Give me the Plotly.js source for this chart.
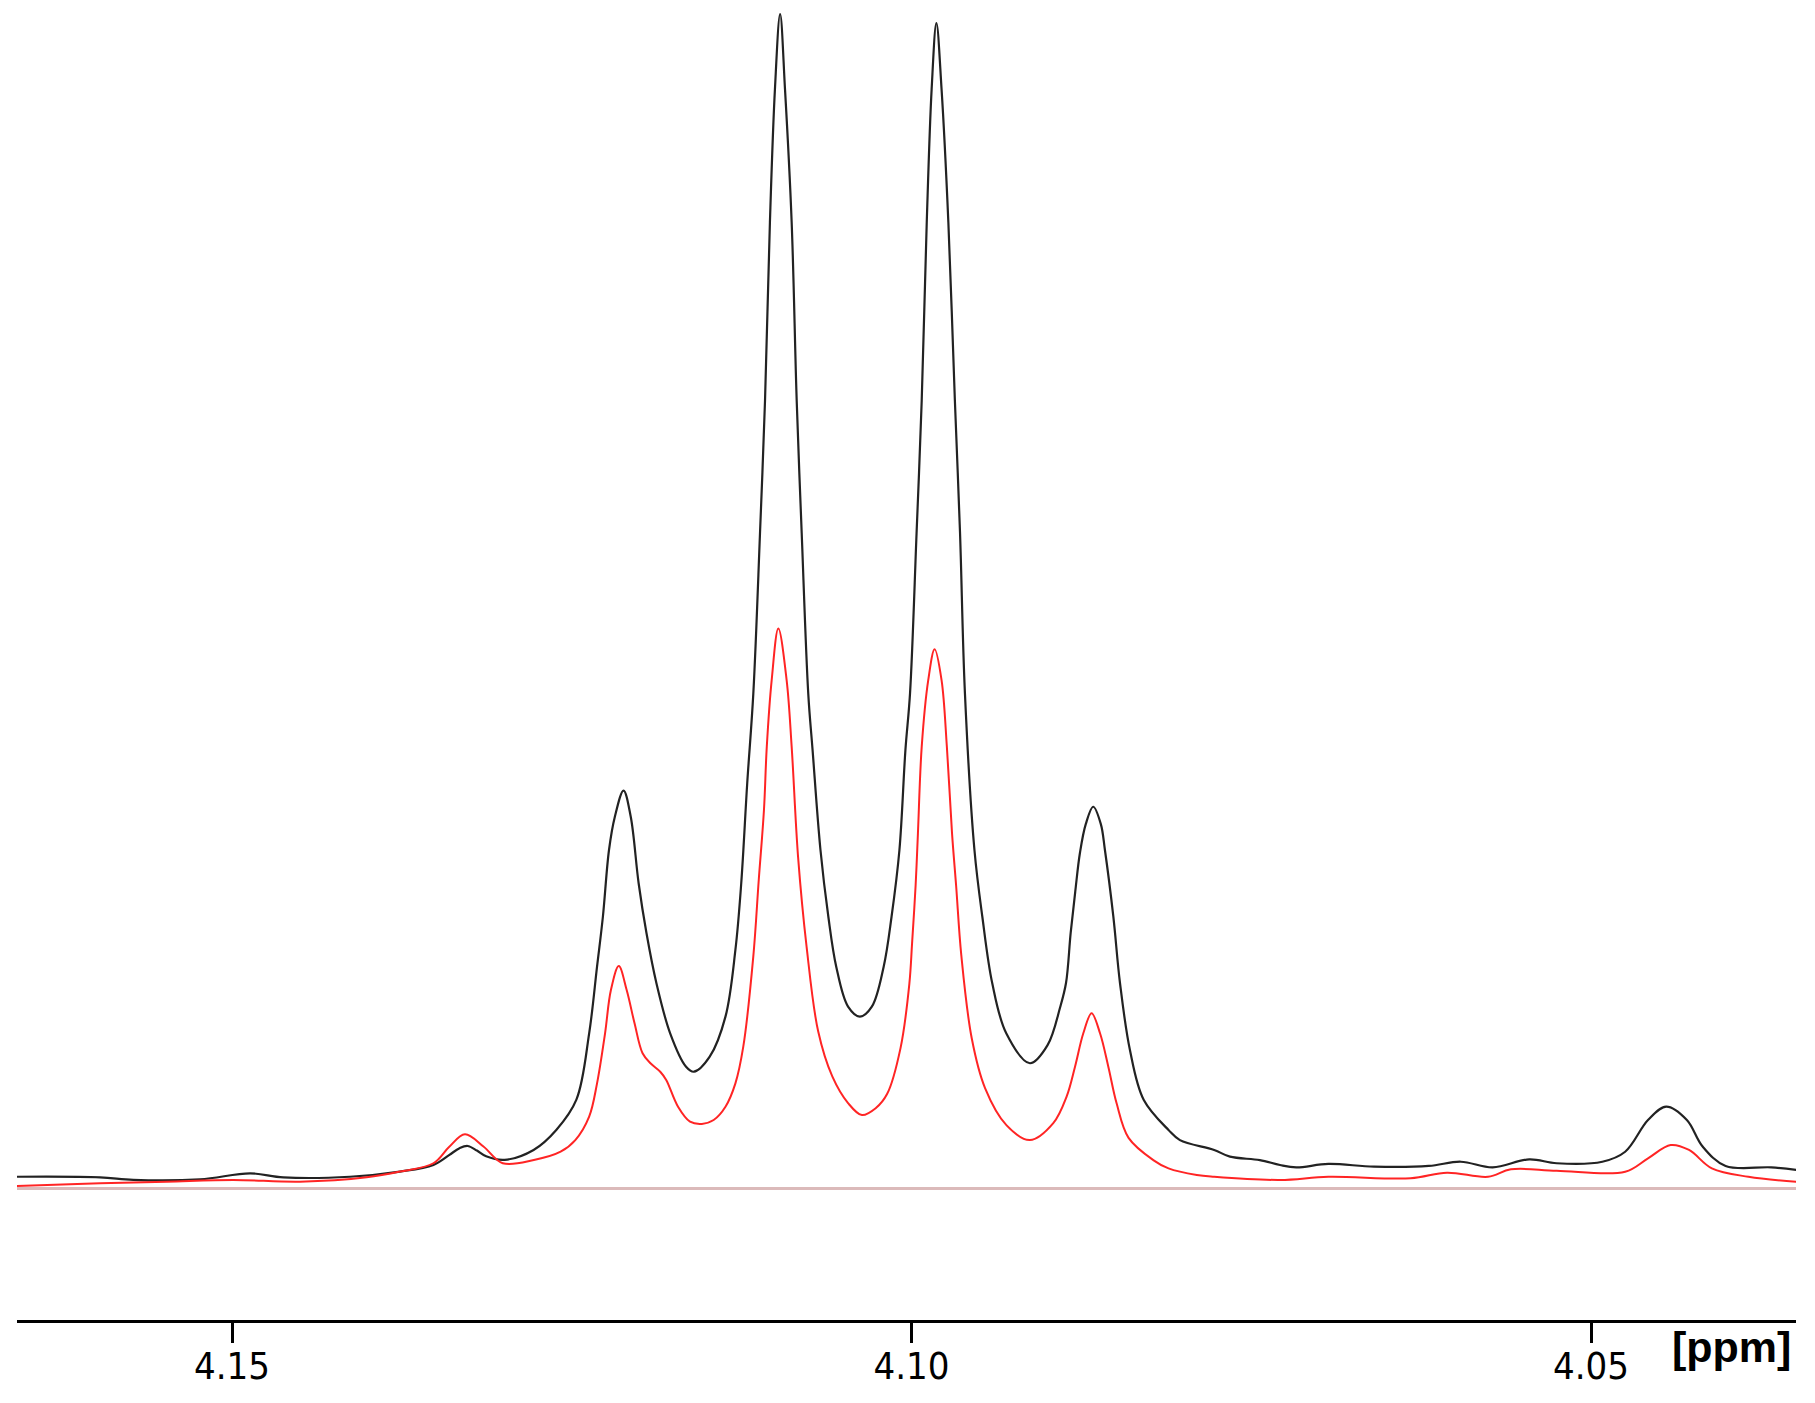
<!DOCTYPE html>
<html>
<head>
<meta charset="utf-8">
<script src="https://cdn.plot.ly/plotly-3.0.1.min.js"></script>
<style>html,body{margin:0;padding:0;background:#fff;}#chart{width:1815px;height:1403px;}</style>
</head>
<body>
<div id="chart"></div>
<script>
// Chemical shift (ppm) and intensity (a.u., tallest peak = 100)
const blackPpm = [4.16584,4.15971,4.15726,4.15235,4.14867,4.14622,4.14132,4.13764,4.13518,4.13403,4.13326,4.13266,4.13198,4.13130,4.12994,4.12781,4.12614,4.12466,4.12372,4.12314,4.12271,4.12226,4.12183,4.12119,4.12066,4.12008,4.11950,4.11877,4.11776,4.11659,4.11601,4.11485,4.11369,4.11296,4.11253,4.11209,4.11164,4.11115,4.11078,4.11042,4.11005,4.10967,4.10931,4.10882,4.10845,4.10808,4.10760,4.10728,4.10670,4.10612,4.10554,4.10467,4.10380,4.10292,4.10205,4.10147,4.10089,4.10045,4.10011,4.09963,4.09925,4.09888,4.09852,4.09817,4.09779,4.09729,4.09681,4.09643,4.09607,4.09537,4.09479,4.09406,4.09303,4.09129,4.08999,4.08906,4.08863,4.08829,4.08795,4.08761,4.08718,4.08663,4.08607,4.08577,4.08515,4.08466,4.08393,4.08292,4.08109,4.08025,4.07773,4.07657,4.07437,4.07289,4.07169,4.06933,4.06597,4.06194,4.05959,4.05724,4.05455,4.05253,4.04917,4.04749,4.04581,4.04447,4.04295,4.04179,4.04010,4.03674,4.03490];
const blackInt = [1.04,0.99,0.77,0.82,1.33,0.99,1.04,1.48,2.05,2.88,3.47,3.66,3.27,2.78,2.48,3.32,5.02,7.60,13.25,18.92,23.17,28.85,31.68,33.91,31.68,26.02,21.76,17.51,13.25,10.41,9.98,11.26,14.67,20.34,26.02,34.53,42.18,55.78,67.11,82.28,93.60,100.0,93.60,82.28,67.11,55.78,42.18,37.35,28.85,23.17,18.92,15.52,14.67,15.52,18.92,23.17,28.85,37.35,42.18,55.78,67.11,82.28,93.60,99.22,93.60,82.28,67.11,55.78,42.18,28.85,23.17,17.51,13.25,10.70,12.24,15.49,17.55,21.79,25.34,28.59,31.05,32.53,31.05,28.85,23.17,17.51,11.83,7.60,5.02,4.16,3.32,2.75,2.46,2.04,1.84,2.13,1.90,1.96,2.32,1.84,2.52,2.19,2.32,3.17,5.87,7.01,5.87,3.61,1.96,1.84,1.62];

const redPpm = [4.16584,4.15971,4.15481,4.14990,4.14500,4.14009,4.13764,4.13518,4.13403,4.13286,4.13150,4.13008,4.12779,4.12582,4.12474,4.12372,4.12314,4.12255,4.12212,4.12154,4.12096,4.12038,4.11979,4.11921,4.11849,4.11805,4.11718,4.11630,4.11543,4.11456,4.11369,4.11296,4.11238,4.11164,4.11124,4.11086,4.11065,4.11029,4.10980,4.10919,4.10882,4.10835,4.10772,4.10687,4.10583,4.10467,4.10365,4.10264,4.10179,4.10081,4.10016,4.09996,4.09970,4.09953,4.09925,4.09877,4.09830,4.09779,4.09740,4.09702,4.09672,4.09634,4.09557,4.09459,4.09302,4.09129,4.08957,4.08859,4.08797,4.08736,4.08675,4.08613,4.08552,4.08491,4.08403,4.08221,4.08109,4.07901,4.07773,4.07289,4.06933,4.06328,4.06060,4.05758,4.05590,4.05253,4.04749,4.04581,4.04414,4.04279,4.04111,4.03842,4.03490];
const redInt = [0.26,0.48,0.62,0.77,0.62,0.99,1.48,2.19,3.57,4.65,3.61,2.19,2.46,3.17,4.16,6.16,8.99,13.25,16.93,18.97,16.93,14.10,11.55,10.70,9.98,9.28,7.00,5.73,5.54,5.87,7.00,8.99,12.11,19.82,26.32,32.23,37.65,43.31,47.70,43.31,37.65,28.29,20.61,13.42,9.58,7.31,6.29,6.87,8.10,11.99,17.46,20.90,25.83,30.26,37.65,43.31,45.93,43.31,37.65,30.26,25.83,19.92,12.83,8.59,5.44,4.16,5.60,7.86,10.41,13.25,14.95,13.25,10.41,7.29,4.35,2.46,1.75,1.19,1.04,0.77,1.04,0.91,1.39,1.04,1.67,1.56,1.47,2.61,3.74,3.32,1.75,1.04,0.62];

const tickVals = [4.15, 4.10, 4.05];
const tickText = ['4.15', '4.10', '4.05'];
const axisUnit = '[ppm]';

const traces = [
  {x: blackPpm, y: blackInt, type: 'scatter', mode: 'lines',
   line: {color: '#222222', width: 2.2, shape: 'spline', smoothing: 1.0}, hoverinfo: 'skip'},
  {x: redPpm, y: redInt, type: 'scatter', mode: 'lines',
   line: {color: '#ff2424', width: 2, shape: 'spline', smoothing: 1.0}, hoverinfo: 'skip'}
];

const layout = {
  width: 1815, height: 1403, autosize: false,
  margin: {l: 17, r: 19, t: 0, b: 83, pad: 0},
  paper_bgcolor: '#ffffff', plot_bgcolor: '#ffffff',
  showlegend: false,
  xaxis: {
    range: [4.16582, 4.03492], autorange: false,
    showgrid: false, zeroline: false,
    showline: true, linecolor: '#000000', linewidth: 3,
    ticks: 'outside', ticklen: 20, tickwidth: 3, tickcolor: '#000000',
    tickmode: 'array', tickvals: tickVals, ticktext: tickText,
    ticklabelstandoff: -10,
    tickfont: {family: '"Liberation Sans Narrow", "DejaVu Sans Condensed", Arial, sans-serif', size: 38, color: '#000000'}
  },
  yaxis: {
    range: [-11.15, 101.19], autorange: false,
    showgrid: false, showline: false, showticklabels: false, ticks: '',
    zeroline: true, zerolinecolor: '#dbbaba', zerolinewidth: 3
  },
  annotations: [{
    text: '<b>' + axisUnit + '</b>', xref: 'paper', yref: 'paper',
    x: 1, y: 0, xanchor: 'right', yanchor: 'middle', xshift: -3, yshift: -27,
    showarrow: false,
    font: {family: '"Liberation Sans", Arial, sans-serif', size: 43, color: '#000000'}
  }]
};

Plotly.newPlot('chart', traces, layout, {displayModeBar: false, staticPlot: true});
</script>
</body>
</html>
